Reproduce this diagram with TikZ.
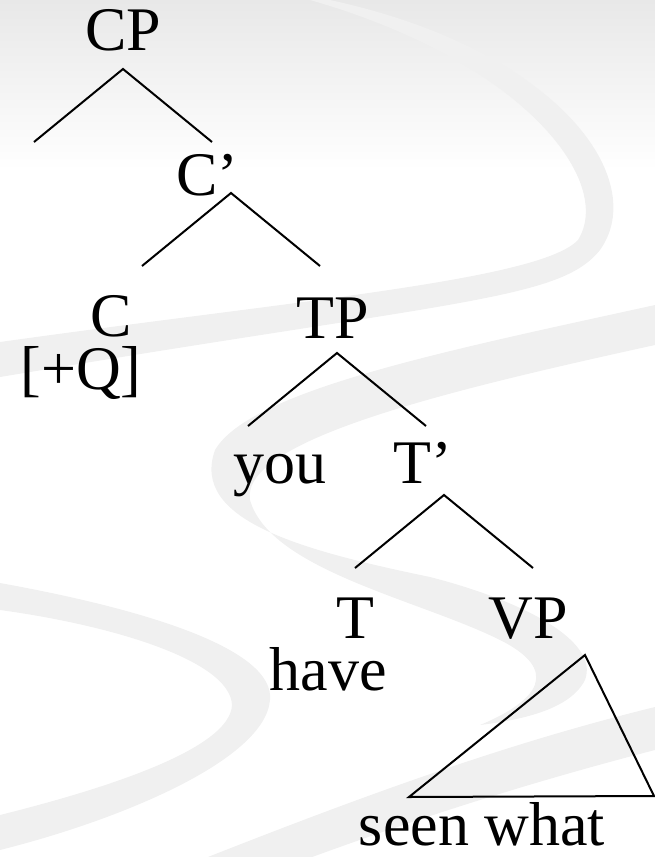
\documentclass[tikz,border=0pt]{standalone}
\usepackage{fontspec}
\setmainfont{Liberation Serif}
\usepackage{tikz}
\usetikzlibrary{positioning}

\tikzset{
  lbl/.style={font=\fontsize{62}{62}\selectfont, anchor=base, inner sep=0pt},
  branch/.style={line width=2pt},
  swoosh/.style={fill=black!6, draw=none},
}

\begin{document}
\begin{tikzpicture}[x=1pt, y=-1pt]
    \useasboundingbox (0,0) rectangle (655,857);

    % background - pale top and grey swooshes
    \begin{scope}
    \clip (0,0) rectangle (655,857);
    \shade[top color=black!9, bottom color=white] (0,0) rectangle (655,170);
    \fill[swoosh] (330,0) .. controls (560,50) and (650,180) .. (600,250)
        .. controls (560,300) and (460,300) .. (0,377) -- (0,342)
        .. controls (300,300) and (540,280) .. (578,240)
        .. controls (615,180) and (520,60) .. (310,0) -- cycle;
    \fill[swoosh] (655,305) .. controls (450,350) and (250,390) .. (215,450)
        .. controls (190,520) and (300,550) .. (430,577)
        .. controls (520,600) and (600,640) .. (585,680)
        .. controls (570,710) and (520,720) .. (480,725)
        .. controls (540,700) and (560,670) .. (500,640)
        .. controls (420,600) and (270,570) .. (250,500)
        .. controls (240,440) and (450,390) .. (655,345) -- cycle;
    \fill[swoosh] (0,583) .. controls (150,610) and (275,650) .. (270,700)
        .. controls (265,760) and (120,820) .. (0,850) -- (0,815)
        .. controls (100,790) and (230,750) .. (232,705)
        .. controls (230,660) and (110,625) .. (0,610) -- cycle;
    \fill[swoosh] (150,880) .. controls (350,800) and (500,745) .. (655,707)
        -- (655,750) .. controls (500,790) and (350,840) .. (200,900) -- cycle;
    \end{scope}

    % labels of the tree
    \node[lbl] (CP) at (123,50) {CP};
    \node[lbl] (Cbar) at (207,195) {C’};
    \node[lbl] (C) at (111,336) {C};
    \node[lbl] (Q) at (81,389) {[+Q]};
    \node[lbl] (TP) at (333,338) {TP};
    \node[lbl] (you) at (280,483) {you};
    \node[lbl] (Tbar) at (423,483) {T’};
    \node[lbl] (T) at (355,638) {T};
    \node[lbl] (VP) at (528,638) {VP};
    \node[lbl] (have) at (328,690) {have};
    \node[lbl] (seen) at (482,845) {seen what};

    % branchings
    \foreach \nm/\px/\py in {cp/123/69, cbar/231/193, tp/337/353, tbar/444/495} {
        \coordinate (\nm-top) at (\px,\py);
        \coordinate (\nm-left) at (\px-89,\py+73);
        \coordinate (\nm-right) at (\px+89,\py+73);
        \draw[branch] (\nm-left) -- (\nm-top) -- (\nm-right);
    }

    % triangle over the VP
    \coordinate (vp-top) at (585,655);
    \coordinate (vp-left) at (409,797);
    \coordinate (vp-right) at (654,796);
    \draw[branch] (vp-top) -- (vp-left) -- (vp-right) -- cycle;
\end{tikzpicture}
\end{document}
